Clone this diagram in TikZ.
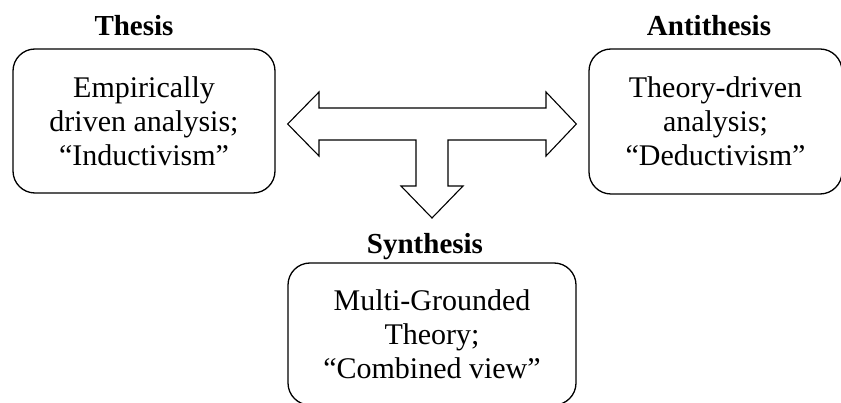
\documentclass[tikz,border=0pt]{standalone}
\usepackage{fontspec}
\setmainfont{Liberation Serif}
\usetikzlibrary{calc}

\tikzset{
  box/.style={draw, line width=1.3pt, rounded corners=22pt, align=center,
    inner sep=0pt, font=\fontsize{30}{34}\selectfont},
  head/.style={anchor=base, inner sep=0pt, font=\fontsize{29}{32.5}\selectfont\bfseries},
  blockarrow/.style={draw, line width=1.1pt, line join=miter}
}

\begin{document}
\begin{tikzpicture}[x=1pt,y=-1pt]
            \useasboundingbox (0,0) rectangle (841,403);
            \node[box, minimum width=262pt, minimum height=144pt] (thesis) at (144,121) {Empirically\\driven analysis;\\“Inductivism”};
            \node[box, minimum width=253pt, minimum height=145pt] (anti) at (715.5,121.5) {Theory-driven\\analysis;\\“Deductivism”};
            \node[box, minimum width=288pt, minimum height=142pt] (synth) at (432,334) {Multi-Grounded\\Theory;\\“Combined view”};
            \node[head] (thesislab) at (134,36) {Thesis};
            \node[head] (antilab) at (709,36) {Antithesis};
            \node[head] (synthlab) at (425,254) {Synthesis};
            % three-way block arrow
            \coordinate (ltip) at ($(thesis.east)+(12,3)$);
            \coordinate (rtip) at ($(anti.west)+(-12,2.5)$);
            \draw[blockarrow] (ltip) -- (319,92) -- (319,108) -- (546,108) -- (546,92) -- (rtip)
                -- (546,156) -- (546,140) -- (448,140) -- (448,186) -- (463,186) -- (432,218)
                -- (401,186) -- (416,186) -- (416,140) -- (319,140) -- (319,156) -- cycle;
        \end{tikzpicture}
\end{document}
